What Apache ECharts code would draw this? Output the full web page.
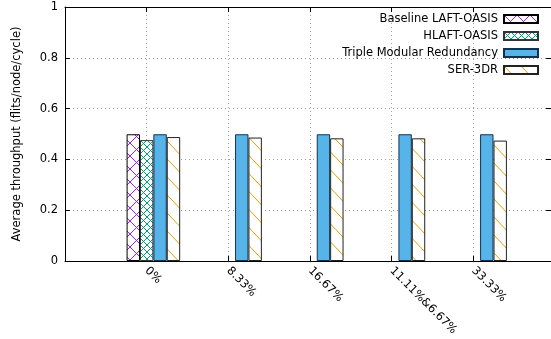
<!DOCTYPE html>
<html>
<head>
<meta charset="utf-8">
<script src="https://cdn.jsdelivr.net/npm/echarts@6/dist/echarts.min.js"></script>
<style>html,body{margin:0;padding:0;background:#fff}#c{width:551px;height:339px}</style>
</head>
<body>
<div id="c"></div>
<script>
// ---- data ----
var categories = ['0%', '8.33%', '16.67%', '11.11%&6.67%', '33.33%'];
var seriesNames = ['Baseline LAFT-OASIS', 'HLAFT-OASIS', 'Triple Modular Redundancy', 'SER-3DR'];
var baselineLaft = [0.499, null, null, null, null];
var hlaft = [0.476, null, null, null, null];
var tmr = [0.499, 0.499, 0.499, 0.499, 0.499];
var ser3dr = [0.488, 0.486, 0.483, 0.483, 0.474];
var yTicks = [0, 0.2, 0.4, 0.6, 0.8, 1];

function makePattern(w, h, color, draw) {
  var cv = document.createElement('canvas');
  cv.width = w; cv.height = h;
  var ctx = cv.getContext('2d');
  ctx.fillStyle = '#fff';
  ctx.fillRect(0, 0, w, h);
  ctx.strokeStyle = color;
  ctx.lineWidth = 1;
  draw(ctx, w, h);
  return { image: cv, repeat: 'repeat' };
}
function lattice(ctx, w, h) {
  ctx.beginPath();
  ctx.moveTo(-w, -h); ctx.lineTo(2 * w, 2 * h);
  ctx.moveTo(2 * w, -h); ctx.lineTo(-w, 2 * h);
  ctx.moveTo(-w, 0); ctx.lineTo(w, 2 * h);
  ctx.moveTo(0, -h); ctx.lineTo(2 * w, h);
  ctx.moveTo(w, -h); ctx.lineTo(-w, h);
  ctx.moveTo(2 * w, 0); ctx.lineTo(0, 2 * h);
  ctx.stroke();
}
function diag(ctx, w, h) {
  ctx.beginPath();
  ctx.moveTo(-w, -h); ctx.lineTo(2 * w, 2 * h);
  ctx.moveTo(-w, 0); ctx.lineTo(w, 2 * h);
  ctx.moveTo(0, -h); ctx.lineTo(2 * w, h);
  ctx.stroke();
}
var purplePat = makePattern(13, 13, '#a020f0', lattice);
var greenPat = makePattern(7, 7, '#009e73', lattice);
var orangePat = makePattern(17, 18, '#e69f00', diag);

function pairs(arr) { return arr.map(function (v, i) { return [i, v]; }); }

var font = 'DejaVu Sans';
var FS = 11.5;
var BW = 13.4;
var chart = echarts.init(document.getElementById('c'), null, { renderer: 'canvas' });
var barBase = { type: 'bar', barWidth: BW, barGap: '0%', xAxisIndex: 0, yAxisIndex: 0 };
chart.setOption({
  animation: false,
  backgroundColor: '#fff',
  grid: { left: 65, top: 7, right: 0, bottom: 78, containLabel: false },
  legend: {
    orient: 'vertical', right: 7, top: 7, align: 'right', icon: 'rect',
    itemWidth: 34, itemHeight: 8, itemGap: 3,
    data: seriesNames,
    textStyle: { fontFamily: font, fontSize: FS, color: '#000', lineHeight: 14, padding: [0, 1, 0, 0] },
    selectedMode: false
  },
  xAxis: [{
    type: 'value', min: -1, max: 4.95, interval: 1, position: 'bottom',
    axisLine: { show: true, onZero: false, lineStyle: { color: '#000', width: 1 } },
    axisTick: { show: true, inside: true, length: 5, lineStyle: { color: '#000' } },
    axisLabel: {
      rotate: -45, fontFamily: font, fontSize: FS, color: '#000', margin: 8,
      showMinLabel: false, showMaxLabel: false,
      formatter: function (v) { return categories[v] !== undefined ? categories[v] : ''; }
    },
    splitLine: { show: true, lineStyle: { color: '#a0a0a0', type: [1, 3], width: 1 } }
  }, {
    type: 'value', min: -1, max: 4.95, interval: 1, position: 'top',
    axisLine: { show: true, onZero: false, lineStyle: { color: '#000', width: 1 } },
    axisTick: { show: true, inside: true, length: 5, lineStyle: { color: '#000' } },
    axisLabel: { show: false }, splitLine: { show: false }
  }],
  yAxis: [{
    type: 'value', min: 0, max: 1, interval: 0.2, position: 'left',
    name: 'Average throughput (flits/node/cycle)', nameLocation: 'middle', nameGap: 42,
    nameTextStyle: { fontFamily: font, fontSize: FS, color: '#000' },
    axisLine: { show: true, onZero: false, lineStyle: { color: '#000', width: 1 } },
    axisTick: { show: true, inside: true, length: 5, lineStyle: { color: '#000' } },
    axisLabel: {
      fontFamily: font, fontSize: FS, color: '#000', margin: 7,
      formatter: function (v) { return yTicks.indexOf(v) >= 0 ? String(v) : ''; }
    },
    splitLine: { show: true, lineStyle: { color: '#a0a0a0', type: [1, 3], width: 1 } }
  }, {
    type: 'value', min: 0, max: 1, interval: 0.2, position: 'right',
    axisLine: { show: false, onZero: false },
    axisTick: { show: true, inside: true, length: 5, lineStyle: { color: '#000' } },
    axisLabel: { show: false }, splitLine: { show: false }
  }],
  series: [
    Object.assign({}, barBase, { name: '_slot', data: pairs([null, null, null, null, null]), silent: true }),
    Object.assign({}, barBase, { name: seriesNames[0], data: pairs(baselineLaft),
      itemStyle: { color: purplePat, borderColor: '#000', borderWidth: 1 } }),
    Object.assign({}, barBase, { name: seriesNames[1], data: pairs(hlaft),
      itemStyle: { color: greenPat, borderColor: '#333', borderWidth: 1 } }),
    Object.assign({}, barBase, { name: seriesNames[2], data: pairs(tmr),
      itemStyle: { color: '#56b4e9', borderColor: '#123050', borderWidth: 1 } }),
    Object.assign({}, barBase, { name: seriesNames[3], data: pairs(ser3dr),
      itemStyle: { color: orangePat, borderColor: '#222', borderWidth: 1 } })
  ]
});
</script>
</body>
</html>
